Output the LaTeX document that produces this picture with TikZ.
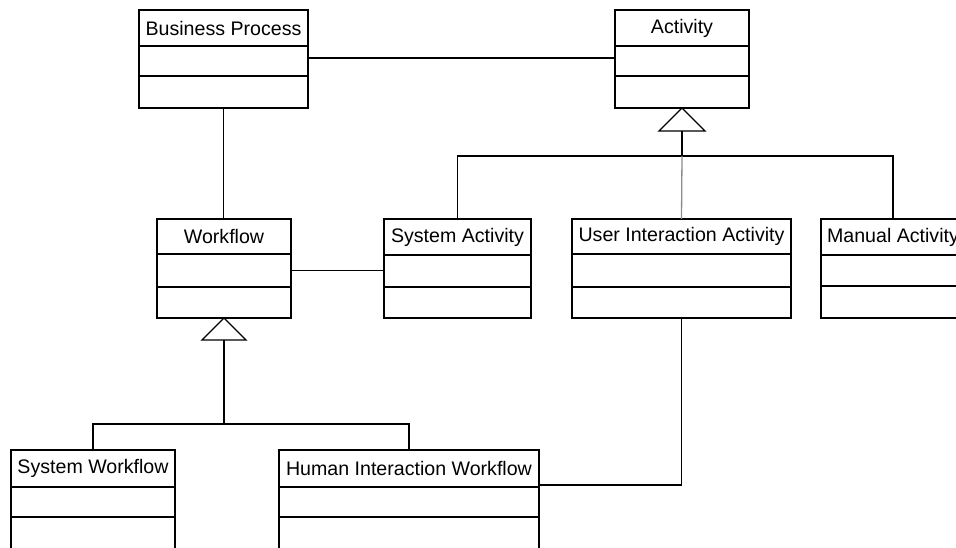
\documentclass[tikz,border=0pt]{standalone}
\usepackage{fontspec}
\setmainfont{Liberation Sans}
\usepackage{tikz}
\usetikzlibrary{calc}
\tikzset{
	classbox/.style={draw, line width=1.3pt, inner sep=0pt, outer sep=0pt, anchor=north west, font=\fontsize{19.6}{22}\selectfont},
	umlline/.style={line width=1.3pt},
}
% \umlclass{name}{left}{top}{width}{h1}{h2}{h3}{title}
\newcommand{\umlclass}[8]{%
	\node[classbox, minimum width=#4pt, minimum height=#5pt] (#1) at (#2, #3) {#8};
	\node[classbox, minimum width=#4pt, minimum height=#6pt] (#1-a) at (#1.south west) {};
	\node[classbox, minimum width=#4pt, minimum height=#7pt] (#1-b) at (#1-a.south west) {};
}

\begin{document}
\begin{tikzpicture}[x=1pt, y=-1pt]
		%%%%% START %%%%%
		\useasboundingbox (0, 0) rectangle (956, 547);
		\clip (0, 0) rectangle (956, 547);
		
		\umlclass{bp}{139}{10}{169}{36}{30}{32}{Business Process}
		\umlclass{act}{615}{10}{134}{36}{30}{32}{Activity}
		
		\umlclass{wf}{157}{219}{134}{35}{33}{31}{Workflow}
		\umlclass{sysact}{384}{219}{147}{36}{32}{31}{System Activity}
		\umlclass{uia}{572}{219}{219}{35}{33}{31}{User Interaction Activity}
		\umlclass{man}{821}{219}{144}{36}{31}{32}{Manual Activity}
		
		\umlclass{sw}{11}{450}{164}{37}{30}{40}{System Workflow}
		\umlclass{hiw}{279}{450}{260}{37}{30}{40}{Human Interaction Workflow}
		
		% associations
		\draw[umlline] ([yshift=3pt]bp-a.east) -- ([yshift=3pt]bp-a.east -| act.west);
		\draw[umlline] (bp-b.south) -- (bp-b.south |- wf.north);
		\draw[umlline] (wf-a.east) -- (wf-a.east -| sysact.west);
		\draw[umlline] ([yshift=2pt]hiw.south east) -| (uia-b.south);
		
		% activity generalization
		\draw[umlline] (act-b.south) -- ++(-23, 23) -- ++(46, 0) -- cycle;
		\coordinate (act-tri) at ($(act-b.south)+(0, 23)$);
		\coordinate (act-bus) at ($(act-tri)+(0, 25)$);
		\draw[umlline] (act-tri) -- (act-bus);
		\draw[umlline] (sysact.north) |- (act-bus) -| (man.north);
		\draw[umlline, black!45] (act-bus) -- (uia.north);
		
		% workflow generalization
		\draw[umlline] (wf-b.south) -- ++(-22, 22) -- ++(44, 0) -- cycle;
		\coordinate (wf-tri) at ($(wf-b.south)+(0, 22)$);
		\coordinate (wf-bus) at ($(wf-tri)+(0, 84)$);
		\draw[umlline] (wf-tri) -- (wf-bus);
		\draw[umlline] (sw.north) |- (wf-bus) -| (hiw.north);
		%%%%% END %%%%%
\end{tikzpicture}
\end{document}
